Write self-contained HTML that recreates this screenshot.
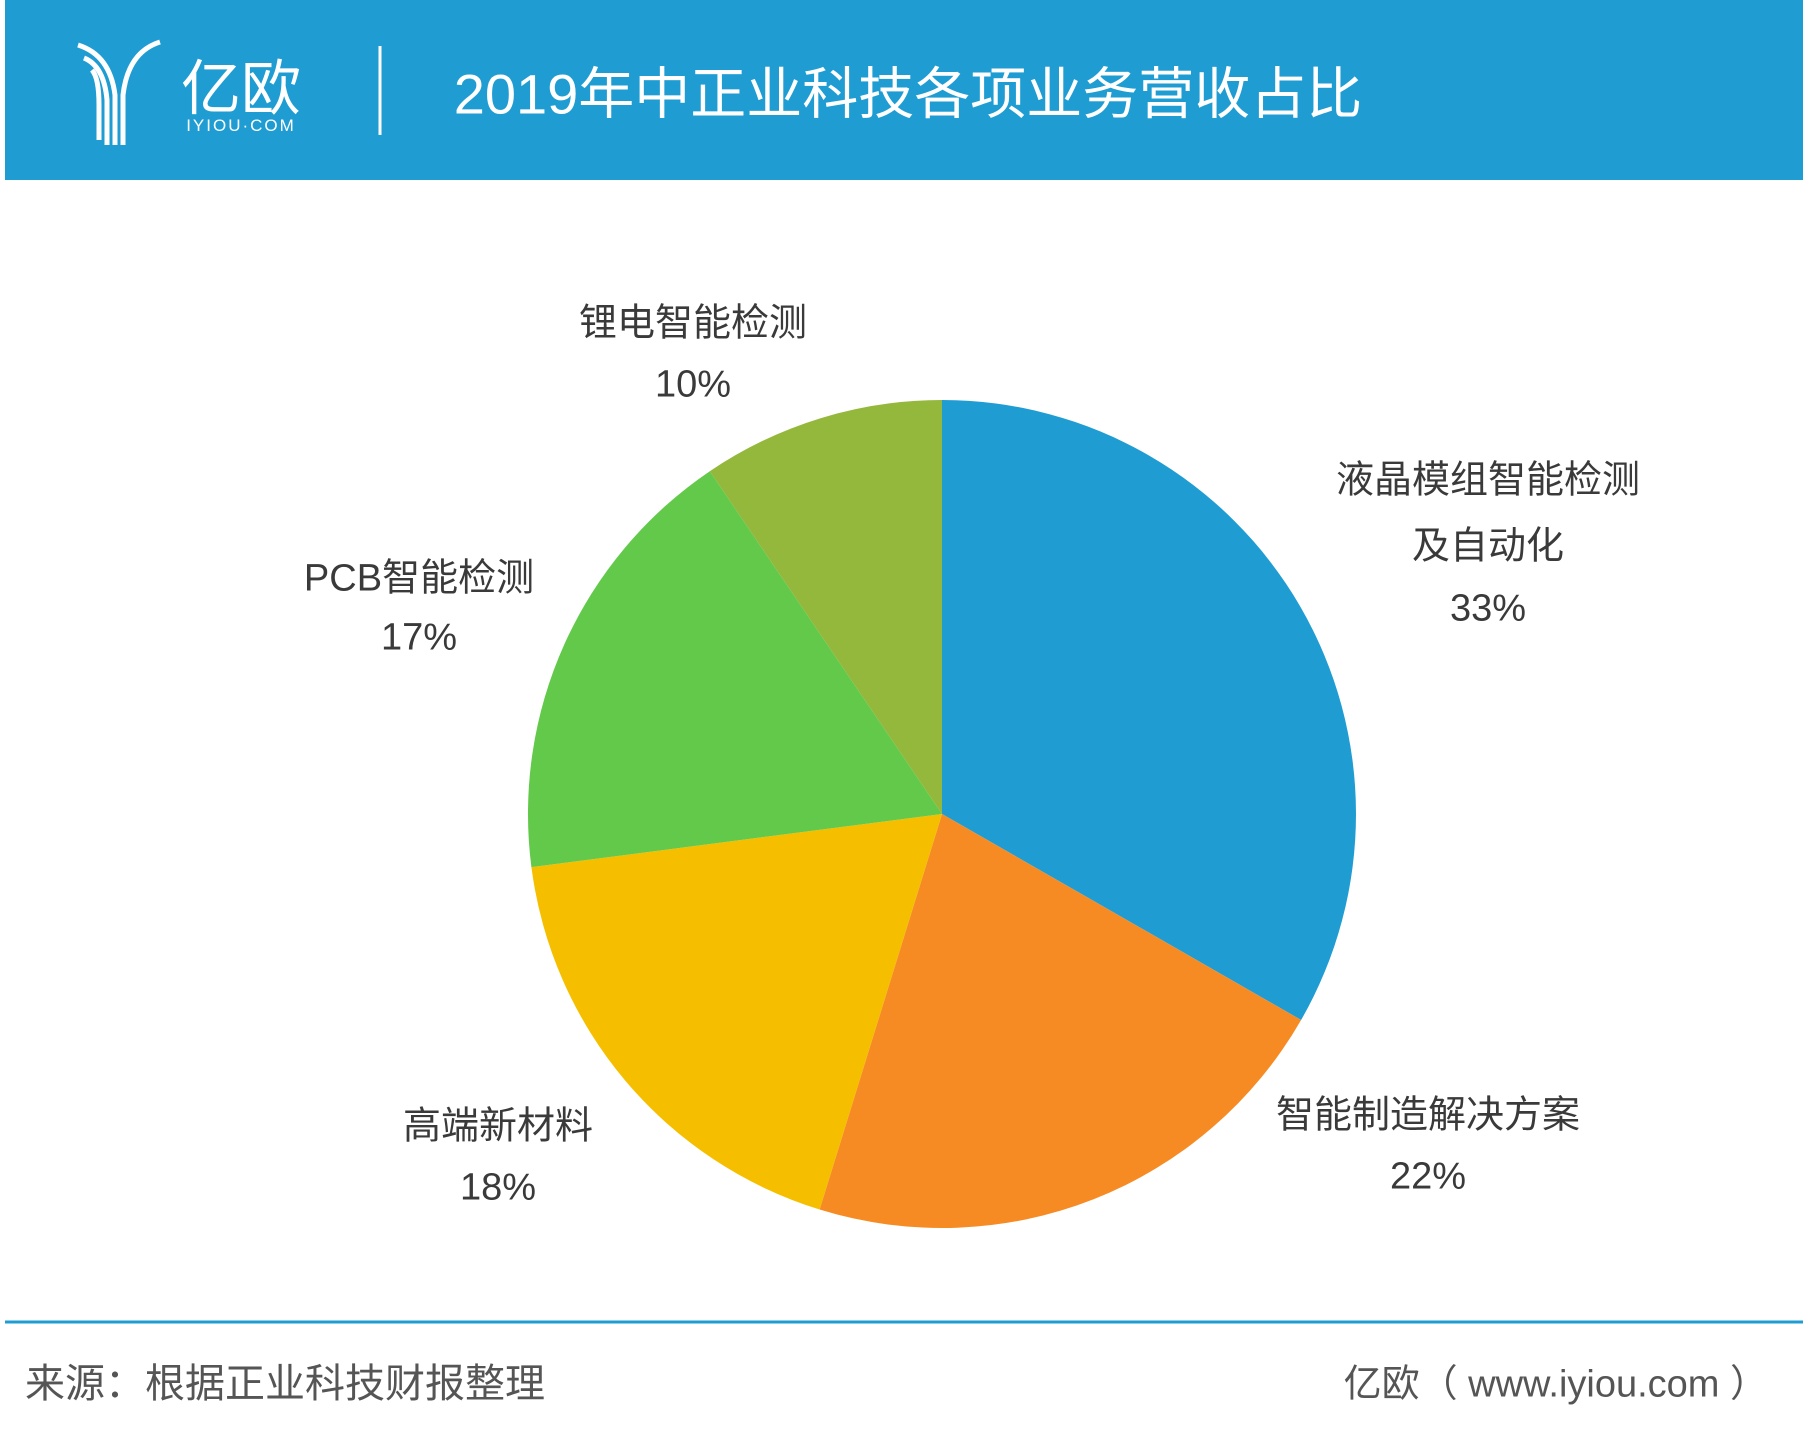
<!DOCTYPE html>
<html><head><meta charset="utf-8"><style>
body{margin:0;width:1806px;height:1438px;background:#fff;position:relative;overflow:hidden;font-family:"Liberation Sans","Noto Sans CJK SC",sans-serif;}
.hdr{position:absolute;left:5px;top:0;width:1798px;height:180px;background:#1f9dd3;}
.t{position:absolute;white-space:nowrap;transform:translate(-50%,-50%);color:#3a3a3a;font-size:38px;}
</style></head><body>
<div class="hdr"></div>
<svg style="position:absolute;left:0;top:0" width="1806" height="1438">
<g fill="none" stroke="#fff" stroke-width="5">
<path d="M78 45 Q110 55 115 95 L115 145"/><path d="M84 58 Q104 66 107 100 L107 145"/>
<path d="M160 42 Q128 52 123 95 L123 145"/><path d="M92 70 Q99 78 99 105 L99 140"/>
</g>
<line x1="380" y1="46" x2="380" y2="135" stroke="#fff" stroke-width="3"/>
<g transform="translate(942,814)">
<path d="M0 0 L0 -414 A414 414 0 0 1 359.1 206.0 Z" fill="#1f9dd3"/>
<path d="M0 0 L359.1 206.0 A414 414 0 0 1 -122.4 395.5 Z" fill="#f68b24"/>
<path d="M0 0 L-122.4 395.5 A414 414 0 0 1 -410.6 53.1 Z" fill="#f5bf00"/>
<path d="M0 0 L-410.6 53.1 A414 414 0 0 1 -232.2 -342.8 Z" fill="#62c94b"/>
<path d="M0 0 L-232.2 -342.8 A414 414 0 0 1 0 -414 Z" fill="#93b83b"/>
</g>
<line x1="5" y1="1322" x2="1803" y2="1322" stroke="#1f9dd3" stroke-width="3"/>
</svg>
<div class="t" style="left:241px;top:84px;color:#fff;font-size:60px;">亿欧</div>
<div class="t" style="left:241px;top:126px;color:#fff;font-size:17px;letter-spacing:2px;">IYIOU·COM</div>
<div class="t" style="left:908px;top:90px;color:#fff;font-size:56px;">2019年中正业科技各项业务营收占比</div>
<div class="t" style="left:693px;top:319px;">锂电智能检测</div>
<div class="t" style="left:693px;top:385px;">10%</div>
<div class="t" style="left:1488px;top:476px;">液晶模组智能检测</div>
<div class="t" style="left:1488px;top:542px;">及自动化</div>
<div class="t" style="left:1488px;top:609px;">33%</div>
<div class="t" style="left:419px;top:574px;">PCB智能检测</div>
<div class="t" style="left:419px;top:638px;">17%</div>
<div class="t" style="left:498px;top:1122px;">高端新材料</div>
<div class="t" style="left:498px;top:1188px;">18%</div>
<div class="t" style="left:1428px;top:1111px;">智能制造解决方案</div>
<div class="t" style="left:1428px;top:1177px;">22%</div>
<div class="t" style="left:25px;top:1380px;transform:translate(0,-50%);font-size:40px;color:#555;">来源：根据正业科技财报整理</div>
<div class="t" style="right:38px;left:auto;top:1380px;transform:translate(0,-50%);font-size:38px;color:#555;">亿欧（ www.iyiou.com ）</div>
</body></html>
